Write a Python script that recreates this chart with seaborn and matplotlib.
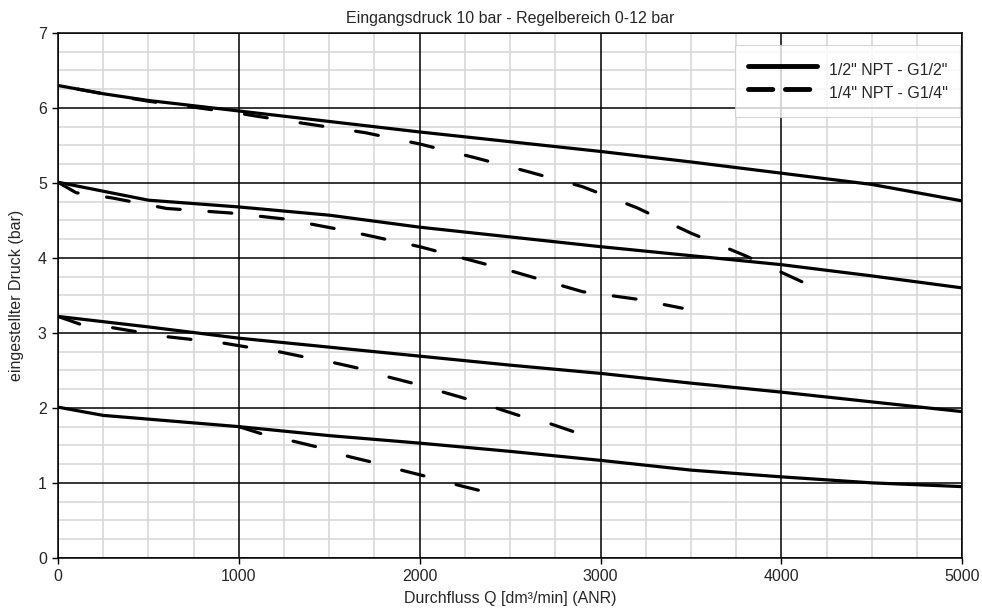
import pandas as pd
import matplotlib
matplotlib.use('Agg')
import matplotlib.pyplot as plt
from matplotlib.lines import Line2D
from matplotlib.ticker import MultipleLocator
import seaborn as sns

# 1/2" NPT - G1/2" curves (solid)
half_x = [0, 250, 500, 1000, 1500, 2000, 2500, 3000, 3500, 4000, 4500, 5000]
half_6 = [6.30, 6.19, 6.10, 5.96, 5.82, 5.68, 5.55, 5.42, 5.28, 5.13, 4.98, 4.76]
half_5 = [5.01, 4.89, 4.77, 4.68, 4.57, 4.41, 4.28, 4.15, 4.03, 3.91, 3.76, 3.60]
half_3 = [3.22, 3.15, 3.08, 2.93, 2.81, 2.69, 2.57, 2.46, 2.33, 2.21, 2.08, 1.95]
half_2 = [2.01, 1.90, 1.85, 1.75, 1.63, 1.53, 1.42, 1.30, 1.17, 1.08, 1.00, 0.95]

# 1/4" NPT - G1/4" curves (dashed)
q6_x = [0, 250, 500, 1000, 1100, 1400, 1700, 2000, 2300, 2600, 2900, 3200, 3500, 3800, 4115]
q6_y = [6.30, 6.19, 6.09, 5.93, 5.89, 5.78, 5.67, 5.52, 5.34, 5.15, 4.95, 4.67, 4.33, 4.03, 3.68]
q5_x = [0, 100, 300, 600, 950, 1250, 1600, 2000, 2500, 2900, 3200, 3451]
q5_y = [5.01, 4.87, 4.80, 4.66, 4.60, 4.52, 4.36, 4.15, 3.83, 3.55, 3.45, 3.33]
q3_x = [0, 130, 300, 600, 900, 1050, 1220, 1360, 1530, 1660, 1830, 1960,
        2130, 2260, 2420, 2560, 2720, 2854]
q3_y = [3.22, 3.11, 3.07, 2.95, 2.87, 2.81, 2.75, 2.68, 2.60, 2.53, 2.41, 2.33,
        2.21, 2.12, 2.00, 1.89, 1.79, 1.68]
q2_x = [1000, 1145, 1311, 1449, 1609, 1748, 1914, 2046, 2212, 2345]
q2_y = [1.75, 1.64, 1.55, 1.47, 1.35, 1.27, 1.16, 1.08, 0.97, 0.89]

title = 'Eingangsdruck 10 bar - Regelbereich 0-12 bar'
labels = ['1/2" NPT - G1/2"', '1/4" NPT - G1/4"']

sns.set_style('white')
plt.rcParams['font.family'] = ['Liberation Sans', 'DejaVu Sans']
fs = 11.5

fig, ax = plt.subplots(figsize=(9.82, 6.11), dpi=100)
fig.subplots_adjust(left=0.059, right=0.98, top=0.946, bottom=0.087)

lw = 2.3
for y in [half_6, half_5, half_3, half_2]:
    sns.lineplot(x=half_x, y=y, ax=ax, color='black', linewidth=lw,
                 estimator=None, sort=False, solid_capstyle='round', zorder=3)

# (offset, on, off) of each dashed curve, in linewidths
dash_styles = [(11.3, 7.2, 10.4), (0, 7.2, 9.0), (0, 7.2, 10.4), (0, 7.2, 10.4)]
for (x, y), (off, on, gap) in zip([(q6_x, q6_y), (q5_x, q5_y), (q3_x, q3_y), (q2_x, q2_y)],
                                  dash_styles):
    line = sns.lineplot(x=x, y=y, ax=ax, color='black', linewidth=lw,
                        estimator=None, sort=False, zorder=3).lines[-1]
    line.set_linestyle((off, (on, gap)))
    line.set_dash_capstyle('round')

ax.set_xlim(0, 5000)
ax.set_ylim(0, 7)
ax.xaxis.set_major_locator(MultipleLocator(1000))
ax.xaxis.set_minor_locator(MultipleLocator(250))
ax.yaxis.set_major_locator(MultipleLocator(1))
ax.yaxis.set_minor_locator(MultipleLocator(0.25))
ax.grid(which='minor', color='#d9d9d9', linewidth=1.2)
ax.grid(which='major', visible=False)
ax.set_axisbelow(True)
# black major grid drawn on top of the light minor grid
for t in ax.get_xticks():
    ax.axvline(t, color='black', linewidth=1.1, zorder=1)
for t in ax.get_yticks():
    ax.axhline(t, color='black', linewidth=1.1, zorder=1)
for s in ax.spines.values():
    s.set_color('black')
    s.set_linewidth(1.1)
ax.tick_params(which='major', direction='out', length=4, width=1, color='black',
               labelsize=fs, left=True, bottom=True, pad=4)
ax.tick_params(which='minor', length=0)

ax.set_title(title, fontsize=fs, pad=7)
ax.set_xlabel('Durchfluss Q [dm³/min] (ANR)', fontsize=fs, labelpad=5)
ax.set_ylabel('eingestellter Druck (bar)', fontsize=fs, labelpad=10)

handles = [Line2D([], [], color='black', linewidth=3.5, solid_capstyle='round'),
           Line2D([], [], color='black', linewidth=3.5, dashes=(5, 2.6),
                  dash_capstyle='round')]
leg = ax.legend(handles, labels, loc='upper right', fontsize=fs, handlelength=4.3,
                handletextpad=0.75, handleheight=1.85, frameon=True, fancybox=False,
                borderpad=0.8, labelspacing=0.0, borderaxespad=0,
                bbox_to_anchor=(0.9978, 0.977))
leg.get_frame().set_edgecolor('#cccccc')
leg.get_frame().set_linewidth(0.8)
leg.set_zorder(5)

plt.savefig('out.png', dpi=100)
plt.close()
